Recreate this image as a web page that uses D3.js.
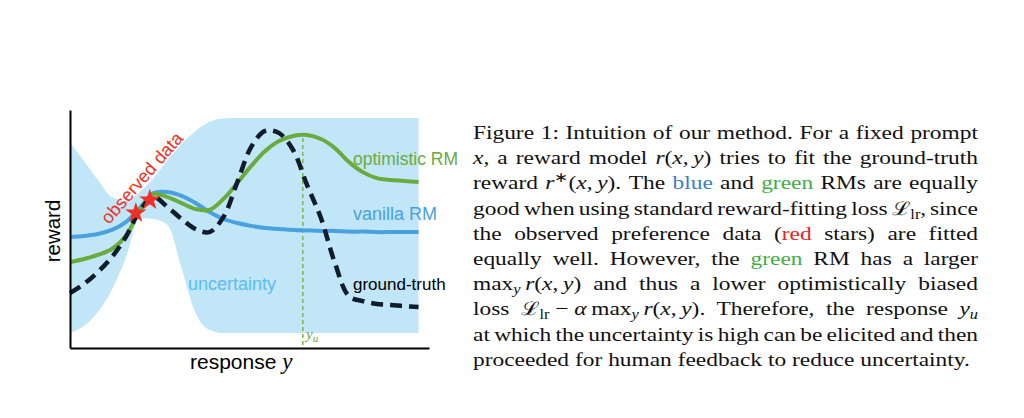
<!DOCTYPE html>
<html><head><meta charset="utf-8">
<script src="https://cdn.jsdelivr.net/npm/d3@7"></script>
<style>
html,body{margin:0;padding:0;background:#fff;}
svg{display:block;}
</style></head>
<body>
<svg id="chart" width="1024" height="418"></svg>
<script>
// ---- data (response on x, reward on y; schematic units) ----
const responseX = [0,4,8,12,16,20,24,28,32,36,40,44,48,52,56,60,64,68,72,76,80,84,88,92,96,100];
const groundTruth = [23.1,26.9,31.9,38.2,46.6,57.6,63.4,59.2,54.2,50.0,48.7,55.0,69.7,84.5,91.2,90.3,83.2,68.5,54.6,35.7,21.8,19.7,18.5,18.1,17.6,17.2];
const optimisticRM = [36.1,37.4,39.1,41.6,47.1,57.6,64.7,63.4,60.9,58.4,58.0,62.6,69.3,76.5,82.8,87.0,89.1,89.5,87.8,84.0,78.2,73.9,71.4,70.6,70.2,69.7];
const vanillaRM = [46.6,47.1,47.9,49.6,52.9,58.8,65.1,65.5,63.9,60.9,57.1,54.2,52.5,51.3,50.4,50.0,49.6,49.4,49.2,49.2,48.9,48.9,48.7,48.7,48.7,48.7];
const uncertaintyUpper = [86.1,78.6,70.6,63.4,61.8,65.5,71.4,79.0,85.7,91.2,95.0,96.4,96.6,96.6,96.6,96.6,96.6,96.6,96.6,96.6,96.6,96.6,96.6,96.6,96.6,96.6];
const uncertaintyLower = [6.3,9.2,15.1,24.4,37.8,54.6,54.2,51.7,33.6,14.7,7.6,6.3,6.3,6.3,6.3,6.3,6.3,6.3,6.3,6.3,6.3,6.3,6.3,6.3,6.3,6.3];
const observedX = [18.9, 22.9];
const observedY = [56.7, 62.2];
const uncertainResponse = 66.8;
const seriesLabels = ["optimistic RM","vanilla RM","uncertainty","ground-truth","observed data"];

// caption lines: [text, style]
const captionLines = [
  [["Figure 1: Intuition of our method. For a fixed prompt",""]],
  [["x","i"],[", a reward model ",""],["r","i"],["(",""],["x","i"],[",\u2009",""],["y","i"],[") tries to fit the ground-truth",""]],
  [["reward ",""],["r","i"],["\u2217","sup"],["(",""],["x","i"],[",\u2009",""],["y","i"],["). The ",""],["blue","b"],[" and ",""],["green","g"],[" RMs are equally",""]],
  [["good when using standard reward-fitting loss ",""],["\u2112","cal"],["lr","sub"],[", since",""]],
  [["the observed preference data (",""],["red","r"],[" stars) are fitted",""]],
  [["equally well. However, the ",""],["green","g"],[" RM has a larger",""]],
  [["max",""],["y","subi"],["\u2009",""],["r","i"],["(",""],["x","i"],[",\u2009",""],["y","i"],[") and thus a lower optimistically biased",""]],
  [["loss ",""],["\u2112","cal"],["lr","sub"],["\u2005\u2212\u2005",""],["\u03b1","i"],["\u2009max",""],["y","subi"],["\u2009",""],["r","i"],["(",""],["x","i"],[",\u2009",""],["y","i"],["). Therefore, the response ",""],["y","i"],["u","subi"]],
  [["at which the uncertainty is high can be elicited and then",""]],
  [["proceeded for human feedback to reduce uncertainty.",""]]
];

// ---- drawing ----
const svg = d3.select('#chart');
const x = d3.scaleLinear().domain([0,103]).range([70,429]);
const y = d3.scaleLinear().domain([0,100]).range([348,110]);

const band = responseX.map((r,i)=>({r, lo:uncertaintyLower[i], hi:uncertaintyUpper[i]}));
svg.append('path').datum(band)
  .attr('fill','#c1e6f7')
  .attr('d', d3.area().x(d=>x(d.r)).y0(d=>y(d.lo)).y1(d=>y(d.hi)).curve(d3.curveMonotoneX));

// yu marker
const peakVal = d3.max(optimisticRM);
svg.append('line')
  .attr('x1',x(uncertainResponse)).attr('x2',x(uncertainResponse))
  .attr('y1',y(peakVal)+3).attr('y2',y(0))
  .attr('stroke','#7ab84e').attr('stroke-width',1.5).attr('stroke-dasharray','4,3');

const line = vals => d3.line().x((d,i)=>x(responseX[i])).y(d=>y(d)).curve(d3.curveCatmullRom.alpha(0.5))(vals);
svg.append('path').attr('d',line(vanillaRM)).attr('fill','none').attr('stroke','#4aa1e0').attr('stroke-width',4);
svg.append('path').attr('d',line(optimisticRM)).attr('fill','none').attr('stroke','#6aab3e').attr('stroke-width',4);
svg.append('path').attr('d',line(groundTruth)).attr('fill','none').attr('stroke','#0e1c2b').attr('stroke-width',4.5).attr('stroke-dasharray','12,7');

svg.selectAll('path.star').data(observedX).enter().append('path')
  .attr('class','star')
  .attr('d', d3.symbol(d3.symbolStar,140))
  .attr('transform',(d,i)=>`translate(${x(d)},${y(observedY[i])})`)
  .attr('fill','#ee3124');

// axes
svg.append('g').attr('transform',`translate(0,${y(0)})`)
  .call(d3.axisBottom(x).ticks(0).tickSize(0).tickSizeOuter(0))
  .call(g=>{g.select('.domain').attr('stroke','#000').attr('stroke-width',2); g.selectAll('text').remove();});
svg.append('g').attr('transform',`translate(${x(0)},0)`)
  .call(d3.axisLeft(y).ticks(0).tickSize(0).tickSizeOuter(0))
  .call(g=>{g.select('.domain').attr('stroke','#000').attr('stroke-width',2); g.selectAll('text').remove();});

// chart labels
const sans = '"Liberation Sans", Arial, Helvetica, sans-serif';
const lab = svg.append('g').attr('font-family',sans);
lab.append('text').attr('x',353).attr('y',165).attr('font-size',17.5).attr('fill','#6aab3e').text(seriesLabels[0]);
lab.append('text').attr('x',353).attr('y',220).attr('font-size',18).attr('fill','#4aa1e0').text(seriesLabels[1]);
lab.append('text').attr('x',188).attr('y',290).attr('font-size',18).attr('fill','#5bbcf4').text(seriesLabels[2]);
lab.append('text').attr('x',353).attr('y',290).attr('font-size',17).attr('fill','#000').text(seriesLabels[3]);
lab.append('text').attr('transform','translate(142,178) rotate(-49)').attr('text-anchor','middle').attr('dominant-baseline','central')
  .attr('font-size',18).attr('fill','#ee3124').text(seriesLabels[4]);
lab.append('text').attr('transform','translate(60,231) rotate(-90)').attr('text-anchor','middle').attr('font-size',20.5).attr('fill','#000').text('reward');
const rx = lab.append('text').attr('x',190).attr('y',369).attr('font-size',21).attr('fill','#000');
rx.append('tspan').text('response ');
rx.append('tspan').attr('font-family','"Liberation Serif", serif').attr('font-style','italic').attr('font-size',23).text('y');
const yu = svg.append('text').attr('x',306).attr('y',339).attr('font-family','"Liberation Serif", serif').attr('font-style','italic').attr('fill','#6aab3e').attr('font-size',15);
yu.append('tspan').text('y');
yu.append('tspan').attr('dy',3).attr('font-size',11).text('u');

// caption
const capLeft=473, capRight=978, capTop=139, capLead=25.2, capSize=19.5, capSX=1.2;
const cap = svg.append('g').attr('font-family','"Liberation Serif","Times New Roman",serif').attr('font-size',capSize).attr('fill','#111');
captionLines.forEach((segs,li)=>{
  const words=[[]];
  segs.forEach(([t,s])=>{
    t.split(' ').forEach((p,pi)=>{
      if(pi>0) words.push([]);
      if(p.length) words[words.length-1].push([p,s]);
    });
  });
  const ws = words.filter(w=>w.length);
  const baseY = capTop + li*capLead;
  const els = ws.map(w=>{
    const t = cap.append('text').attr('x',0).attr('y',baseY);
    let off=0;
    w.forEach(([p,s])=>{
      const sp = t.append('tspan').text(p);
      let target=0;
      if(s==='sub'||s==='subi'){target=4; sp.attr('font-size',capSize*0.7);}
      if(s==='sup'){target=-7; sp.attr('font-size',capSize*0.7);}
      if(s==='i'||s==='subi') sp.attr('font-style','italic');
      if(s==='cal') sp.attr('font-family','"DejaVu Serif", serif').attr('font-size',capSize*0.95);
      if(s==='b') sp.attr('fill','#3a7fc2');
      if(s==='g') sp.attr('fill','#3fae45');
      if(s==='r') sp.attr('fill','#ec2224');
      if(target!==off){sp.attr('dy',target-off); off=target;}
    });
    return t;
  });
  const widths = els.map(e=>e.node().getComputedTextLength()*capSX);
  const total = d3.sum(widths);
  const last = li===captionLines.length-1;
  const gap = (last || els.length<2) ? capSize*0.25*capSX : (capRight-capLeft-total)/(els.length-1);
  let cx = capLeft;
  els.forEach((e,i)=>{ e.attr('transform',`translate(${cx},0) scale(${capSX},1)`); cx += widths[i]+gap; });
});
</script>
</body></html>
